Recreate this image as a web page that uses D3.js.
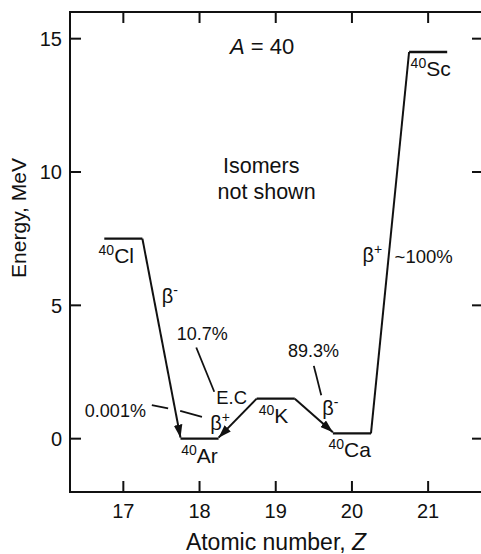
<!DOCTYPE html>
<html>
<head>
<meta charset="utf-8">
<script src="https://cdn.jsdelivr.net/npm/d3@7"></script>
<style>
  body { margin: 0; background: #fff; }
  svg text { font-family: "Liberation Sans", Arial, sans-serif; fill: #111; }
</style>
</head>
<body>
<div id="chart"></div>
<script>
// level data
const elements = ["Cl", "Ar", "K", "Ca", "Sc"];
const massNumber = 40;
const atomicNumbers = [17, 18, 19, 20, 21];
const energies = [7.5, 0, 1.5, 0.2, 14.5];

// decays: from -> to (indexes into elements)
const decayFrom = [0, 2, 2, 4];
const decayTo = [1, 1, 3, 3];
const decayArrow = [true, true, true, false];

const xTicks = [17, 18, 19, 20, 21];
const yTicks = [0, 5, 10, 15];

const width = 481, height = 554;
const margin = { top: 12, right: -2, bottom: 62, left: 70 };

const svg = d3.select("#chart")
    .append("svg")
    .attr("width", width)
    .attr("height", height);

const x = d3.scaleLinear().domain([16.3, 21.72]).range([margin.left, width - margin.right]);
const y = d3.scaleLinear().domain([-2, 16]).range([height - margin.bottom, margin.top]);

const x0 = margin.left, x1 = width - margin.right;
const y0 = height - margin.bottom, y1 = margin.top;

svg.append("defs").append("marker")
    .attr("id", "arrow")
    .attr("viewBox", "0 0 12 8")
    .attr("refX", 12)
    .attr("refY", 4)
    .attr("markerUnits", "userSpaceOnUse")
    .attr("markerWidth", 13)
    .attr("markerHeight", 9)
    .attr("orient", "auto")
    .append("path")
    .attr("d", "M0,0 L12,4 L0,8 Z")
    .attr("fill", "#111");

// frame
svg.append("rect")
    .attr("x", x0).attr("y", y1)
    .attr("width", x1 - x0).attr("height", y0 - y1)
    .attr("fill", "none").attr("stroke", "#111").attr("stroke-width", 2);

const tickLen = 11;
xTicks.forEach(t => {
    svg.append("line").attr("x1", x(t)).attr("x2", x(t))
        .attr("y1", y0).attr("y2", y0 - tickLen)
        .attr("stroke", "#111").attr("stroke-width", 2);
    svg.append("line").attr("x1", x(t)).attr("x2", x(t))
        .attr("y1", y1).attr("y2", y1 + tickLen)
        .attr("stroke", "#111").attr("stroke-width", 2);
    svg.append("text")
        .attr("x", x(t)).attr("y", y0 + 26)
        .attr("text-anchor", "middle")
        .style("font-size", "20px")
        .text(t);
});
yTicks.forEach(t => {
    svg.append("line").attr("x1", x0).attr("x2", x0 + tickLen)
        .attr("y1", y(t)).attr("y2", y(t))
        .attr("stroke", "#111").attr("stroke-width", 2);
    svg.append("line").attr("x1", x1).attr("x2", x1 - tickLen)
        .attr("y1", y(t)).attr("y2", y(t))
        .attr("stroke", "#111").attr("stroke-width", 2);
    svg.append("text")
        .attr("x", x0 - 8).attr("y", y(t))
        .attr("dy", "0.36em")
        .attr("text-anchor", "end")
        .style("font-size", "20px")
        .text(t);
});

// axis titles
const xTitle = svg.append("text")
    .attr("x", 276).attr("y", 550)
    .attr("text-anchor", "middle")
    .style("font-size", "23px");
xTitle.append("tspan").text("Atomic number, ");
xTitle.append("tspan").style("font-style", "italic").text("Z");

svg.append("text")
    .attr("transform", `translate(26,218) rotate(-90)`)
    .attr("text-anchor", "middle")
    .style("font-size", "21px")
    .text("Energy, MeV");

// energy levels
const half = 0.25;
elements.forEach((el, i) => {
    svg.append("line")
        .attr("x1", x(atomicNumbers[i] - half)).attr("x2", x(atomicNumbers[i] + half))
        .attr("y1", y(energies[i])).attr("y2", y(energies[i]))
        .attr("stroke", "#111").attr("stroke-width", 2.3);
});

// decay lines, from the near end of one level to the near end of the other
decayFrom.forEach((f, k) => {
    const t = decayTo[k];
    const dir = atomicNumbers[t] > atomicNumbers[f] ? 1 : -1;
    svg.append("line")
        .attr("x1", x(atomicNumbers[f] + dir * half))
        .attr("y1", y(energies[f]))
        .attr("x2", x(atomicNumbers[t] - dir * half))
        .attr("y2", y(energies[t]) - (decayArrow[k] ? 1 : 0))
        .attr("stroke", "#111").attr("stroke-width", 2)
        .attr("marker-end", decayArrow[k] ? "url(#arrow)" : null);
});

// nuclide labels: mass number as superscript
const labelPos = { Cl: [17.14, "end"], Ar: [18.0, "middle"], K: [18.97, "middle"], Ca: [19.97, "middle"], Sc: [20.77, "start"] };
elements.forEach((el, i) => {
    const [z, anchor] = labelPos[el];
    const txt = svg.append("text")
        .attr("x", x(z))
        .attr("y", y(energies[i]) + 24)
        .attr("text-anchor", anchor)
        .style("font-size", "21px");
    txt.append("tspan").attr("dy", -8).style("font-size", "14px").text(massNumber);
    txt.append("tspan").attr("dy", 8).text(el);
});

// annotations
function supText(z, e, base, sup) {
    const txt = svg.append("text")
        .attr("x", x(z)).attr("y", y(e))
        .style("font-size", "20px");
    txt.append("tspan").text(base);
    txt.append("tspan").attr("dy", -8).style("font-size", "14px").text(sup);
    return txt;
}
supText(17.505, 5.08, "β", "-");
supText(18.14, 0.33, "β", "+");
supText(19.61, 0.88, "β", "-");
supText(20.14, 6.61, "β", "+");

const notes = [
    { t: "10.7%", z: 17.70, e: 3.69, s: 18 },
    { t: "E.C", z: 18.22, e: 1.30, s: 18.4 },
    { t: "0.001%", z: 16.495, e: 0.82, s: 18 },
    { t: "89.3%", z: 19.16, e: 3.05, s: 18 },
    { t: "~100%", z: 20.56, e: 6.58, s: 18.5 }
];
notes.forEach(n => {
    svg.append("text")
        .attr("x", x(n.z)).attr("y", y(n.e))
        .style("font-size", n.s + "px")
        .text(n.t);
});

const aText = svg.append("text")
    .attr("x", x(18.40)).attr("y", y(14.41))
    .style("font-size", "22px");
aText.append("tspan").style("font-style", "italic").text("A");
aText.append("tspan").text(" = 40");

svg.append("text")
    .attr("x", x(18.81)).attr("y", y(9.95))
    .attr("text-anchor", "middle")
    .style("font-size", "21.5px")
    .text("Isomers");
svg.append("text")
    .attr("x", x(18.88)).attr("y", y(8.98))
    .attr("text-anchor", "middle")
    .style("font-size", "21.5px")
    .text("not shown");

// leader lines
const leaders = [
    [17.957, 3.42, 18.193, 1.76],
    [17.374, 1.26, 17.588, 1.136],
    [17.746, 1.046, 18.032, 0.82],
    [19.50, 2.73, 19.597, 1.63]
];
leaders.forEach(([za, ea, zb, eb]) => {
    svg.append("line")
        .attr("x1", x(za)).attr("y1", y(ea))
        .attr("x2", x(zb)).attr("y2", y(eb))
        .attr("stroke", "#111").attr("stroke-width", 1.8);
});
</script>
</body>
</html>
